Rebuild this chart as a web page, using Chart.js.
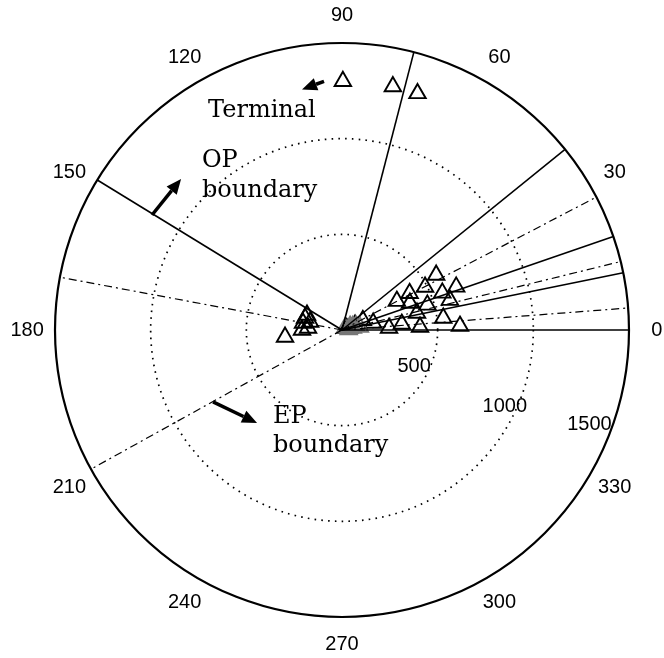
<!DOCTYPE html>
<html>
<head>
<meta charset="utf-8">
<script src="https://cdn.jsdelivr.net/npm/chart.js@4.4.0/dist/chart.umd.min.js"></script>
<style>
html, body { margin: 0; padding: 0; background: #fff; }
#wrap { width: 664px; height: 658px; }
</style>
</head>
<body>
<div id="wrap"><canvas id="polarChart"></canvas></div>
<script>
// Polar axes
const rMax = 1500;
const rTicks = [500, 1000, 1500];
const angleTicks = [0, 30, 60, 90, 120, 150, 180, 210, 240, 270, 300, 330];

// Boundary directions (degrees)
const solidAngles = [0, 11.5, 19, 39, 75.5, 148.5];
const dashDotAngles = [4.4, 13.8, 27.6, 169.4, 209];

// Triangles: angle (deg) and radius
const farTheta = [89.8, 78.2, 72.3];
const farRho = [1300, 1300, 1298];

const rightTheta = [30.3, 27.4, 20.7, 28.5, 20.3, 27.8, 21.7, 16.4, 15.5, 12.8, 6.8, 1.9, 2.2, 2.4, 5.7, 12.7, 25, 21, 20];
const rightRho = [570, 489, 638, 402, 559, 324, 382, 465, 585, 402, 533, 617, 408, 246, 314, 167, 120, 73, 26];

const leftTheta = [156.8, 166, 169.8, 180, 176.6, 187, 162];
const leftRho = [199, 172, 207, 209, 178, 300, 203];

const originTheta = [26, 16, 10, 9.5, 34, 4, 20, 12];
const originRho = [47, 76, 58, 95, 19, 35, 60, 40];

// Annotations
const labels = [
    { text: 'Terminal', x: -700, y: 1113 },
    { text: 'OP', x: -732, y: 852 },
    { text: 'boundary', x: -732, y: 695 },
    { text: 'EP', x: -361, y: -486 },
    { text: 'boundary', x: -361, y: -638 }
];
const arrows = [
    { from: [-94, 1300], to: [-209, 1257] },
    { from: [-993, 601], to: [-841, 789] },
    { from: [-674, -376], to: [-444, -486] }
];

const deg = Math.PI / 180;
function toXY(theta, rho) {
    return theta.map((t, i) => ({ x: rho[i] * Math.cos(t * deg), y: rho[i] * Math.sin(t * deg) }));
}
function ray(a) {
    return [{ x: 0, y: 0 }, { x: rMax * Math.cos(a * deg), y: rMax * Math.sin(a * deg) }];
}

const lineSets = solidAngles.map(a => ({
    type: 'line', data: ray(a), borderColor: '#000', borderWidth: 1.6,
    pointRadius: 0, showLine: true, fill: false
})).concat(dashDotAngles.map(a => ({
    type: 'line', data: ray(a), borderColor: '#000', borderWidth: 1.2,
    borderDash: [8, 4, 2, 4], pointRadius: 0, showLine: true, fill: false
})));

function triangles(data, color) {
    return {
        type: 'scatter', data: data, pointStyle: 'triangle', pointRadius: 9.5,
        borderColor: color, borderWidth: 1.9, backgroundColor: 'rgba(0,0,0,0)'
    };
}

// Rings, angle labels, radius labels
const polarFrame = {
    id: 'polarFrame',
    beforeDatasetsDraw(chart) {
        const { ctx, scales: { x, y } } = chart;
        const cx = x.getPixelForValue(0), cy = y.getPixelForValue(0);
        ctx.save();
        ctx.strokeStyle = '#000';
        rTicks.forEach(r => {
            const rad = x.getPixelForValue(r) - cx;
            ctx.beginPath();
            ctx.arc(cx, cy, rad, 0, Math.PI * 2);
            if (r === rMax) {
                ctx.setLineDash([]);
                ctx.lineWidth = 2.2;
            } else {
                ctx.setLineDash([1.6, 5.2]);
                ctx.lineWidth = 1.7;
            }
            ctx.stroke();
        });
        ctx.setLineDash([]);
        ctx.fillStyle = '#000';
        ctx.font = '20px "Liberation Sans", Arial, sans-serif';
        ctx.textAlign = 'center';
        ctx.textBaseline = 'middle';
        const lr = rMax * 1.097;
        angleTicks.forEach(a => {
            ctx.fillText(String(a), x.getPixelForValue(lr * Math.cos(a * deg)), y.getPixelForValue(lr * Math.sin(a * deg)));
        });
        const spots = [[423, -27], [941, -25.3], [1385, -21]];
        rTicks.forEach((r, i) => {
            const [rr, a] = spots[i];
            ctx.fillText(String(r), x.getPixelForValue(rr * Math.cos(a * deg)), y.getPixelForValue(rr * Math.sin(a * deg)));
        });
        ctx.restore();
    },
    afterDatasetsDraw(chart) {
        const { ctx, scales: { x, y } } = chart;
        ctx.save();
        ctx.fillStyle = '#000';
        ctx.strokeStyle = '#000';
        ctx.font = '24px "DejaVu Serif", serif';
        ctx.textAlign = 'left';
        ctx.textBaseline = 'alphabetic';
        labels.forEach(l => ctx.fillText(l.text, x.getPixelForValue(l.x), y.getPixelForValue(l.y)));
        arrows.forEach(ar => {
            const x0 = x.getPixelForValue(ar.from[0]), y0 = y.getPixelForValue(ar.from[1]);
            const x1 = x.getPixelForValue(ar.to[0]), y1 = y.getPixelForValue(ar.to[1]);
            const ang = Math.atan2(y1 - y0, x1 - x0);
            const hl = 15, hw = 6.5;
            const bx = x1 - hl * Math.cos(ang), by = y1 - hl * Math.sin(ang);
            ctx.lineWidth = 3.5;
            ctx.beginPath();
            ctx.moveTo(x0, y0);
            ctx.lineTo(bx, by);
            ctx.stroke();
            ctx.beginPath();
            ctx.moveTo(x1, y1);
            ctx.lineTo(bx - hw * Math.sin(ang), by + hw * Math.cos(ang));
            ctx.lineTo(bx + hw * Math.sin(ang), by - hw * Math.cos(ang));
            ctx.closePath();
            ctx.fill();
        });
        ctx.restore();
    }
};

new Chart(document.getElementById('polarChart'), {
    type: 'scatter',
    data: {
        datasets: lineSets.concat([
            triangles(toXY(originTheta, originRho), '#777'),
            triangles(toXY(farTheta, farRho), '#000'),
            triangles(toXY(rightTheta, rightRho), '#000'),
            triangles(toXY(leftTheta, leftRho), '#000')
        ])
    },
    options: {
        responsive: true,
        maintainAspectRatio: false,
        animation: false,
        clip: false,
        layout: { padding: { left: 55, right: 35, top: 43, bottom: 41 } },
        plugins: { legend: { display: false }, tooltip: { enabled: false } },
        scales: {
            x: { type: 'linear', min: -rMax, max: rMax, display: false },
            y: { type: 'linear', min: -rMax, max: rMax, display: false }
        }
    },
    plugins: [polarFrame]
});
</script>
</body>
</html>
